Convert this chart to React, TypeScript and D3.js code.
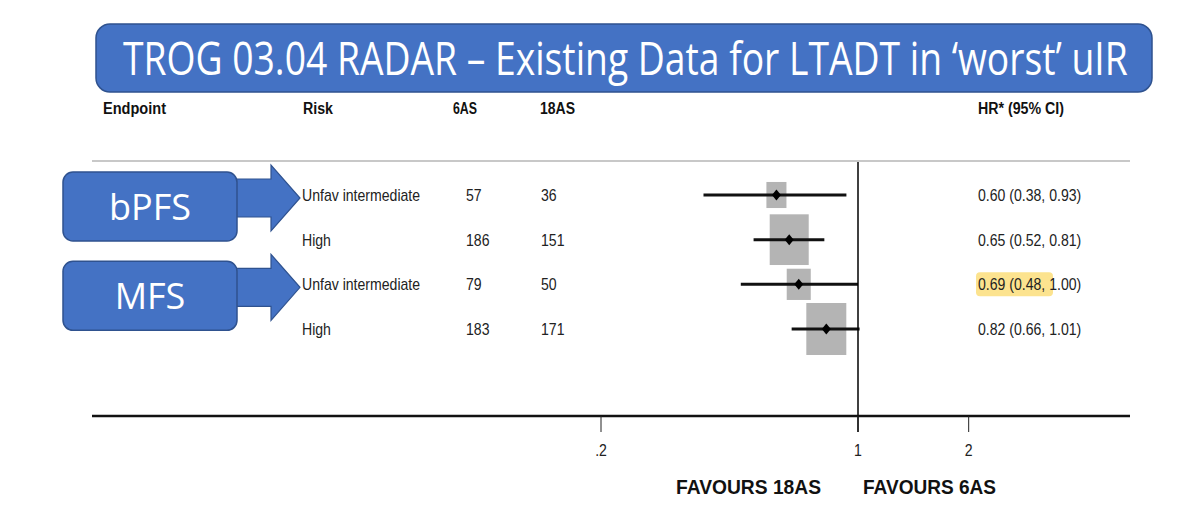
import React, { useLayoutEffect, useRef, useState } from "react";
import * as d3 from "d3";

const title = "TROG 03.04 RADAR – Existing Data for LTADT in ‘worst’ uIR";
const headers = ["Endpoint", "Risk", "6AS", "18AS", "HR* (95% CI)"];
const endpoints = ["bPFS", "MFS"];
const endpointRows = [0, 2];
const risks = ["Unfav intermediate", "High", "Unfav intermediate", "High"];
const n6AS = [57, 186, 79, 183];
const n18AS = [36, 151, 50, 171];
const hr = [0.6, 0.65, 0.69, 0.82];
const lower = [0.38, 0.52, 0.48, 0.66];
const upper = [0.93, 0.81, 1.0, 1.01];
const weights = [9.8, 37.1, 14.1, 39.0];
const highlighted = [false, false, true, false];
const tickValues = [0.2, 1, 2];
const tickLabels = [".2", "1", "2"];
const favourLabels = ["FAVOURS 18AS", "FAVOURS 6AS"];

const W = 1200;
const H = 530;
const FONT = "'Liberation Sans', Arial, sans-serif";
const TITLE_FONT = "'Open Sans', 'Noto Sans', sans-serif";
const BLUE = "#4472C4";
const BLUE_DARK = "#2F528F";

function NarrowText(props: {
  x: number;
  y: number;
  sx?: number;
  anchor?: string;
  size?: number;
  bold?: boolean;
  fill?: string;
  children: React.ReactNode;
}) {
  const { x, y, sx = 0.88, anchor = "start", size = 16, bold = false, fill = "#222" } = props;
  return (
    <text
      transform={`translate(${x},${y}) scale(${sx},1)`}
      textAnchor={anchor}
      fontFamily={FONT}
      fontSize={size}
      fontWeight={bold ? "bold" : "normal"}
      fill={fill}
    >
      {props.children}
    </text>
  );
}

export default function App() {
  const titleRef = useRef<SVGTextElement>(null);
  const [titleScale, setTitleScale] = useState(0.74);
  useLayoutEffect(() => {
    if (titleRef.current) {
      const len = titleRef.current.getComputedTextLength();
      if (len > 0) setTitleScale(1005 / len);
    }
  }, []);

  const x = d3.scaleLog().domain([0.2, 1]).range([601, 858]);
  const y = d3
    .scalePoint<number>()
    .domain(d3.range(risks.length))
    .range([195, 329]);
  const size = d3.scaleSqrt().domain([0, 40]).range([0, 40.5]);
  const fmt = d3.format(".2f");
  const axisY = 416;
  const frameLeft = 92;
  const frameRight = 1130;

  const arrowShape = (cy: number) => {
    const x0 = 236;
    const xs = 271;
    const tip = 300;
    const sh = 19;
    const hh = 33;
    return `M${x0},${cy - sh}L${xs},${cy - sh}L${xs},${cy - hh}L${tip},${cy}L${xs},${cy + hh}L${xs},${cy + sh}L${x0},${cy + sh}Z`;
  };

  return (
    <svg width={W} height={H} style={{ display: "block", position: "absolute", left: 0, top: 0 }}>
      <rect width={W} height={H} fill="#fff" />
      {/* title */}
      <rect x={96} y={24} width={1056} height={68} rx={14} fill={BLUE} stroke={BLUE_DARK} strokeWidth={1.5} />
      <text
        ref={titleRef}
        transform={`translate(123,75) scale(${titleScale},1)`}
        fill="#fff"
        fontFamily={TITLE_FONT}
        fontSize={45}
      >
        {title}
      </text>

      {/* headers */}
      <g fontFamily={FONT} fontWeight="bold" fontSize={16} fill="#111">
        <text x={103} y={114} textLength={63} lengthAdjust="spacingAndGlyphs">{headers[0]}</text>
        <text x={303} y={114} textLength={30} lengthAdjust="spacingAndGlyphs">{headers[1]}</text>
        <text x={453} y={114} textLength={24} lengthAdjust="spacingAndGlyphs">{headers[2]}</text>
        <text x={540} y={114} textLength={35} lengthAdjust="spacingAndGlyphs">{headers[3]}</text>
        <text x={978} y={114} textLength={86} lengthAdjust="spacingAndGlyphs">{headers[4]}</text>
      </g>
      <line x1={frameLeft} x2={frameRight} y1={161} y2={161} stroke="#c8c8c8" strokeWidth={2} />

      {/* endpoint callouts */}
      {endpoints.map((e, i) => {
        const cy = y(endpointRows[i])! + 3;
        const boxTop = y(endpointRows[i])! - 23;
        const boxH = 69;
        return (
          <g key={e}>
            <path d={arrowShape(cy)} fill={BLUE} stroke={BLUE_DARK} strokeWidth={1.2} />
            <rect x={63} y={boxTop} width={174} height={boxH} rx={10} fill={BLUE} stroke={BLUE_DARK} strokeWidth={1.5} />
            <text
              x={150}
              y={boxTop + boxH / 2 + 13}
              textAnchor="middle"
              fill="#fff"
              fontFamily={TITLE_FONT}
              fontSize={36}
            >
              {e}
            </text>
          </g>
        );
      })}

      {/* rows */}
      {risks.map((r, i) => {
        const cy = y(i)!;
        const base = cy + 6;
        return (
          <g key={i}>
            <NarrowText x={302} y={base}>{r}</NarrowText>
            <NarrowText x={466} y={base}>{n6AS[i]}</NarrowText>
            <NarrowText x={541} y={base}>{n18AS[i]}</NarrowText>
            {highlighted[i] && (
              <rect x={976} y={cy - 12} width={77} height={24} rx={4} fill="#FCE38F" />
            )}
            <NarrowText x={978} y={base}>
              {`${fmt(hr[i])} (${fmt(lower[i])}, ${fmt(upper[i])})`}
            </NarrowText>
          </g>
        );
      })}

      {/* forest marks */}
      {risks.map((_, i) => {
        const cy = y(i)!;
        const s = size(weights[i]);
        const cx = x(hr[i]);
        return (
          <g key={`m${i}`}>
            <rect x={cx - s / 2} y={cy - (s * 1.3) / 2} width={s} height={s * 1.3} fill="#b4b4b4" />
            <line x1={x(lower[i])} x2={x(upper[i])} y1={cy} y2={cy} stroke="#111" strokeWidth={3} />
            <path d={`M${cx - 4.5},${cy}L${cx},${cy - 5.5}L${cx + 4.5},${cy}L${cx},${cy + 5.5}Z`} fill="#000" />
          </g>
        );
      })}

      {/* null line */}
      <line x1={x(1)} x2={x(1)} y1={162} y2={432} stroke="#000" strokeWidth={1.5} />

      {/* axis */}
      <line x1={frameLeft} x2={frameRight} y1={axisY} y2={axisY} stroke="#111" strokeWidth={2.5} />
      {tickValues.map((t, i) => (
        <g key={t}>
          <line x1={x(t)} x2={x(t)} y1={axisY} y2={432} stroke="#222" strokeWidth={1} />
          <NarrowText x={x(t)} y={456} anchor="middle">
            {tickLabels[i]}
          </NarrowText>
        </g>
      ))}
      <g fontFamily={FONT} fontWeight="bold" fontSize={20} fill="#111">
        <text x={676} y={494} textLength={145} lengthAdjust="spacingAndGlyphs">{favourLabels[0]}</text>
        <text x={863} y={494} textLength={133} lengthAdjust="spacingAndGlyphs">{favourLabels[1]}</text>
      </g>
    </svg>
  );
}
